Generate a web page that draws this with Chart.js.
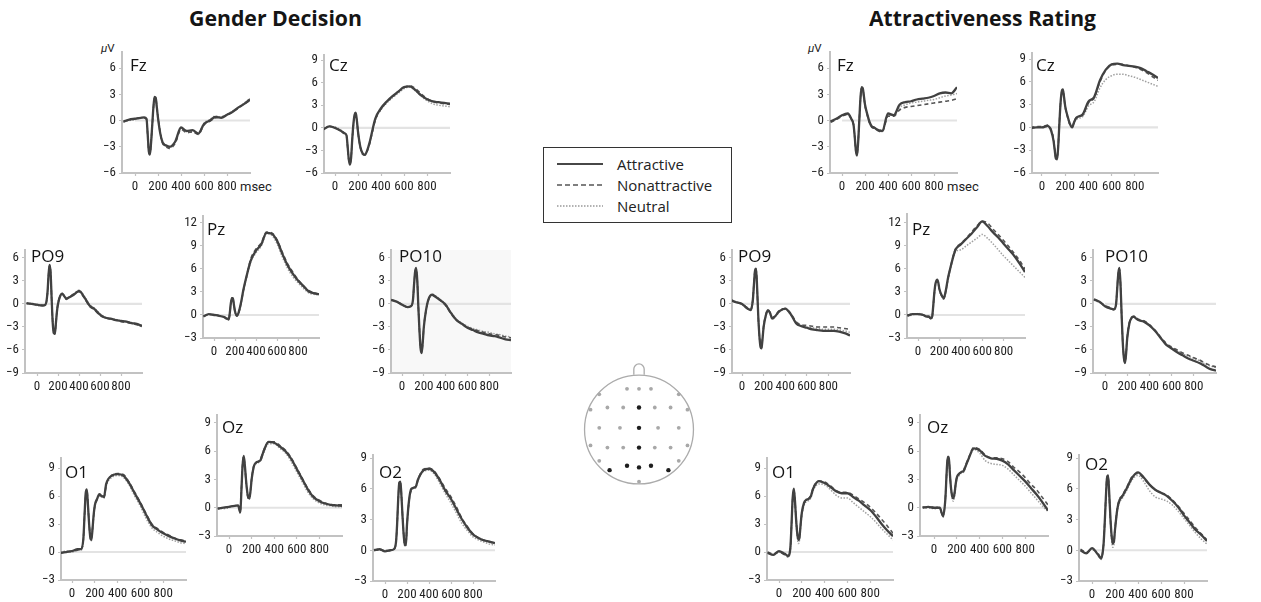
<!DOCTYPE html>
<html><head><meta charset="utf-8">
<script src="https://cdn.jsdelivr.net/npm/chart.js@4.4.1/dist/chart.umd.min.js"></script>
<style>
html,body{margin:0;padding:0;background:#fff;}
body{width:1261px;height:602px;overflow:hidden;position:relative;font-family:Roboto,"Open Sans",sans-serif;}
canvas{position:absolute;}
.title{position:absolute;top:6px;font-family:"Open Sans",sans-serif;font-weight:700;font-size:20.5px;line-height:24px;color:#151515;white-space:nowrap;transform-origin:0 0;}
.small{position:absolute;font-family:"Liberation Sans Narrow",Roboto,sans-serif;font-size:13px;color:#222;white-space:nowrap;line-height:14px;}
#legend{position:absolute;left:543px;top:147px;width:189px;height:76px;border:1px solid #333;box-sizing:border-box;}
#legend .row{position:absolute;left:0;height:20px;}
#legend span{position:absolute;left:73px;top:0;font-family:"Open Sans",sans-serif;font-size:15px;line-height:20px;color:#222;white-space:nowrap;}
#legend svg{position:absolute;left:13px;top:0;}
</style></head><body>
<div class="title" id="t1">Gender Decision</div>
<div class="title" id="t2">Attractiveness Rating</div>
<div class="small" style="left:101px;top:41px;font-size:11.5px;"><i>μ</i>V</div>
<div class="small" style="left:808px;top:41px;font-size:11.5px;"><i>μ</i>V</div>
<div class="small" style="left:240px;top:180px;">msec</div>
<div class="small" style="left:947px;top:180px;">msec</div>
<div id="legend">
 <div class="row" style="top:6px;"><svg width="46" height="20"><line x1="0" y1="10" x2="46" y2="10" stroke="#474747" stroke-width="2.2"/></svg><span>Attractive</span></div>
 <div class="row" style="top:27px;"><svg width="46" height="20"><line x1="0" y1="10" x2="46" y2="10" stroke="#555" stroke-width="1.5" stroke-dasharray="5,3"/></svg><span>Nonattractive</span></div>
 <div class="row" style="top:48px;"><svg width="46" height="20"><line x1="0" y1="10" x2="46" y2="10" stroke="#999" stroke-width="1.3" stroke-dasharray="1.5,1.5"/></svg><span>Neutral</span></div>
</div>
<script>
// ---------- DATA ----------
const times = [-100,-50,0,50,80,100,110,120,130,140,150,160,170,180,190,200,220,240,260,280,300,350,400,450,500,550,600,650,700,750,800,850,900,950,1000];
const xTickValues = [0,200,400,600,800];
const seriesNames = ['Attractive','Nonattractive','Neutral'];

// Gender Decision
const gdFzAttr = [-0.1,0.1,0.2,0.3,0.35,0.2,-1.5,-3.5,-3.9,-2.5,-0.5,1.5,2.7,2.6,1.5,0.3,-1.5,-2.5,-2.8,-2.9,-3.0,-2.4,-0.8,-1.2,-1.1,-1.5,-0.4,0.0,0.4,0.3,0.65,1.0,1.5,1.9,2.4];
const gdFzNon  = [-0.2,0.1,0.2,0.3,0.3,0.1,-1.6,-3.6,-3.8,-2.4,-0.6,1.4,2.6,2.6,1.6,0.4,-1.4,-2.6,-2.9,-3.1,-3.2,-2.6,-1.0,-1.4,-1.3,-1.6,-0.5,-0.1,0.3,0.4,0.6,1.0,1.4,1.9,2.3];
const gdFzNeu  = [-0.1,0.0,0.1,0.3,0.3,0.2,-1.4,-3.4,-3.8,-2.6,-0.6,1.4,2.6,2.5,1.4,0.3,-1.5,-2.4,-2.7,-2.9,-3.1,-2.5,-0.9,-1.3,-1.2,-1.4,-0.3,0.1,0.5,0.4,0.7,1.1,1.5,2.0,2.5];

const gdCzAttr = [-0.2,0.2,0.0,-0.4,-0.7,-1.0,-2.5,-4.2,-4.9,-4.0,-1.5,0.5,1.7,2.0,1.0,-0.5,-2.5,-3.4,-3.6,-3.0,-2.0,1.2,2.6,3.5,4.2,4.8,5.4,5.5,5.0,4.3,3.8,3.5,3.4,3.3,3.2];
const gdCzNon  = [-0.2,0.2,0.0,-0.4,-0.7,-1.1,-2.6,-4.3,-4.8,-3.9,-1.6,0.4,1.6,1.9,1.0,-0.6,-2.6,-3.5,-3.6,-3.1,-2.2,1.0,2.5,3.4,4.1,4.8,5.3,5.6,5.2,4.5,3.9,3.5,3.3,3.2,3.1];
const gdCzNeu  = [-0.1,0.2,0.1,-0.3,-0.7,-1.0,-2.4,-4.1,-4.8,-4.0,-1.6,0.4,1.6,1.9,0.9,-0.6,-2.5,-3.4,-3.5,-3.0,-2.1,1.0,2.4,3.3,4.0,4.6,5.2,5.4,4.9,4.2,3.6,3.2,3.0,2.9,2.8];

const gdPO9Attr = [0.1,0.0,-0.1,-0.2,-0.1,1.5,3.8,5.1,4.0,0.5,-2.5,-3.8,-3.9,-2.5,-1.0,0.0,1.0,1.35,1.0,0.7,0.8,1.2,1.7,0.9,-0.2,-0.7,-1.4,-1.8,-1.9,-2.1,-2.2,-2.3,-2.5,-2.6,-2.9];
const gdPO9Non  = [0.1,0.0,-0.1,-0.2,-0.2,1.4,3.7,5.0,4.1,0.6,-2.4,-3.7,-3.9,-2.6,-1.0,0.1,1.0,1.3,1.0,0.6,0.8,1.3,1.6,0.8,-0.3,-0.8,-1.5,-1.8,-2.0,-2.1,-2.3,-2.4,-2.5,-2.7,-2.8];
const gdPO9Neu  = [0.0,0.1,-0.2,-0.1,-0.1,1.5,3.8,5.0,3.9,0.4,-2.5,-3.8,-3.8,-2.4,-0.9,0.0,1.1,1.4,1.1,0.8,0.9,1.3,1.8,1.0,-0.1,-0.6,-1.3,-1.7,-1.9,-2.0,-2.2,-2.3,-2.4,-2.6,-2.8];

const gdPzAttr = [-0.2,0.1,0.0,-0.1,-0.2,-0.3,-0.4,-0.45,-0.5,-0.6,0.2,1.5,2.2,2.2,1.3,0.5,-0.1,0.6,1.8,3.3,4.5,7.1,8.4,9.2,10.7,10.6,9.7,8.0,6.5,5.4,4.5,3.8,3.1,2.85,2.7];
const gdPzNon  = [-0.2,0.1,0.0,-0.1,-0.2,-0.3,-0.4,-0.5,-0.5,-0.6,0.1,1.4,2.1,2.1,1.3,0.4,-0.1,0.5,1.7,3.2,4.4,7.3,8.6,9.4,10.8,10.7,9.8,8.2,6.7,5.6,4.6,3.8,3.2,2.9,2.7];
const gdPzNeu  = [-0.1,0.0,0.1,-0.1,-0.2,-0.2,-0.3,-0.4,-0.5,-0.6,0.2,1.5,2.2,2.1,1.2,0.4,-0.2,0.5,1.6,3.1,4.3,6.9,8.1,9.0,10.6,10.4,9.3,7.6,6.1,5.0,4.2,3.5,2.9,2.7,2.6];

const gdPO10Attr = [0.55,0.3,-0.1,-0.4,-0.3,0.5,2.5,4.2,4.7,3.0,-0.5,-3.5,-5.8,-6.4,-5.0,-3.0,-0.8,0.5,1.1,1.2,1.0,0.5,-0.1,-1.2,-2.1,-2.6,-3.1,-3.4,-3.7,-3.9,-4.1,-4.2,-4.4,-4.6,-4.7];
const gdPO10Non  = [0.5,0.3,-0.1,-0.4,-0.3,0.4,2.4,4.1,4.6,3.0,-0.4,-3.4,-5.7,-6.3,-5.0,-3.0,-0.9,0.4,1.0,1.1,1.0,0.5,-0.2,-1.3,-2.1,-2.6,-3.0,-3.3,-3.5,-3.7,-3.9,-4.0,-4.1,-4.3,-4.4];
const gdPO10Neu  = [0.6,0.3,0.0,-0.4,-0.3,0.5,2.5,4.2,4.6,2.9,-0.6,-3.5,-5.7,-6.3,-4.9,-2.9,-0.8,0.5,1.1,1.2,1.1,0.6,0.0,-1.1,-2.0,-2.5,-2.9,-3.2,-3.4,-3.6,-3.7,-3.9,-4.0,-4.2,-4.3];

const gdO1Attr = [-0.1,0.0,0.1,0.3,0.3,1.5,4.0,6.3,6.7,5.0,3.0,1.6,1.3,2.5,4.0,5.0,5.7,6.2,6.0,5.9,7.3,8.2,8.35,8.2,7.4,6.3,5.2,4.0,2.9,2.4,2.0,1.7,1.45,1.25,1.1];
const gdO1Non  = [-0.1,0.0,0.1,0.2,0.3,1.4,3.9,6.2,6.7,5.1,3.1,1.7,1.4,2.5,3.9,4.9,5.6,6.1,6.0,5.8,7.2,8.2,8.4,8.3,7.5,6.4,5.3,4.1,3.0,2.5,2.1,1.8,1.5,1.3,1.2];
const gdO1Neu  = [0.0,0.1,0.0,0.2,0.2,1.5,4.0,6.2,6.6,4.9,2.9,1.5,1.2,2.4,3.9,4.9,5.6,6.0,5.9,5.8,7.1,8.0,8.2,8.0,7.2,6.0,4.9,3.6,2.6,2.1,1.7,1.4,1.2,1.0,0.9];

const gdOzAttr = [-0.1,0.0,0.1,0.2,0.25,-0.5,2.0,4.5,5.5,4.5,3.0,1.8,1.1,1.0,1.8,3.0,4.4,4.8,4.9,5.1,5.8,7.0,6.9,6.5,6.0,5.2,4.1,3.0,1.9,1.1,0.7,0.45,0.3,0.25,0.2];
const gdOzNon  = [-0.1,0.0,0.1,0.2,0.2,-0.4,2.1,4.6,5.4,4.4,2.9,1.7,1.0,1.0,1.9,3.1,4.5,4.8,4.9,5.2,5.9,7.0,7.0,6.6,6.1,5.3,4.2,3.1,2.0,1.2,0.8,0.5,0.35,0.3,0.3];
const gdOzNeu  = [0.0,-0.1,0.0,0.2,0.2,-0.6,1.9,4.4,5.4,4.4,2.8,1.6,0.9,0.9,1.7,2.9,4.3,4.7,4.8,5.0,5.6,6.8,6.8,6.3,5.8,4.9,3.8,2.7,1.6,0.9,0.5,0.3,0.2,0.1,0.1];

const gdO2Attr = [0.0,0.1,-0.1,0.0,0.1,0.8,2.5,5.0,6.6,6.7,5.2,3.2,1.5,0.5,0.5,2.5,5.0,6.0,6.1,6.2,6.9,7.8,7.95,7.6,6.8,5.8,5.0,4.0,3.0,2.2,1.55,1.2,0.95,0.85,0.7];
const gdO2Non  = [0.0,0.1,-0.1,0.0,0.1,0.7,2.4,4.9,6.5,6.7,5.3,3.3,1.6,0.6,0.6,2.5,4.9,5.9,6.1,6.2,6.9,7.9,8.0,7.7,6.9,6.0,5.2,4.2,3.1,2.3,1.6,1.2,1.0,0.8,0.7];
const gdO2Neu  = [0.1,0.0,0.0,0.0,0.1,0.8,2.5,4.9,6.5,6.6,5.1,3.1,1.4,0.4,0.5,2.4,4.9,5.9,6.0,6.1,6.8,7.7,7.8,7.4,6.5,5.5,4.6,3.6,2.6,1.9,1.3,1.0,0.8,0.6,0.5];

// Attractiveness Rating
const arFzAttr = [-0.1,0.2,0.6,0.8,0.2,-0.5,-1.8,-3.4,-4.0,-2.5,0.0,2.5,3.8,3.7,2.8,1.8,0.7,-0.2,-0.7,-0.8,-1.0,-1.2,0.8,0.6,1.8,2.1,2.2,2.4,2.5,2.6,2.8,3.1,3.2,3.1,3.8];
const arFzNon  = [-0.2,0.1,0.5,0.7,0.2,-0.5,-1.9,-3.5,-3.9,-2.4,0.1,2.4,3.7,3.6,2.7,1.7,0.6,-0.3,-0.8,-0.9,-1.1,-1.3,0.5,0.5,1.2,1.5,1.6,1.7,1.8,1.9,2.0,2.1,2.2,2.3,2.5];
const arFzNeu  = [-0.1,0.2,0.6,0.7,0.2,-0.4,-1.7,-3.3,-3.9,-2.6,-0.1,2.4,3.7,3.6,2.7,1.7,0.6,-0.3,-0.7,-0.8,-1.0,-1.1,0.6,0.6,1.5,1.8,2.0,2.1,2.2,2.3,2.4,2.6,2.8,2.9,3.1];

const arCzAttr = [-0.1,0.0,0.0,0.2,-0.5,-1.8,-3.0,-4.1,-4.2,-2.5,0.5,3.2,4.7,5.0,4.0,2.8,1.5,0.5,0.0,0.8,1.3,1.7,3.4,4.0,6.2,7.6,8.3,8.4,8.2,8.1,8.0,7.8,7.4,7.0,6.5];
const arCzNon  = [0.0,0.1,0.1,0.3,-0.3,-1.6,-2.9,-4.0,-4.1,-2.4,0.6,3.2,4.6,4.9,3.9,2.7,1.4,0.4,0.1,0.9,1.4,1.6,3.2,3.9,6.0,7.5,8.2,8.3,8.3,8.1,7.9,7.6,7.2,6.7,6.2];
const arCzNeu  = [0.0,0.0,0.1,0.1,-0.4,-1.7,-3.0,-4.1,-4.2,-2.6,0.4,3.1,4.6,4.9,3.9,2.7,1.4,0.4,0.0,0.7,1.1,1.4,2.8,3.4,5.2,6.3,6.8,7.0,7.0,6.8,6.6,6.3,6.0,5.7,5.4];

const arPO9Attr = [0.5,0.2,0.0,-0.6,-0.8,0.5,2.5,4.3,4.6,2.0,-1.5,-4.0,-5.5,-5.8,-4.5,-3.0,-1.5,-0.8,-1.2,-1.9,-1.7,-0.9,-0.6,-1.3,-2.5,-2.9,-3.1,-3.3,-3.4,-3.5,-3.5,-3.5,-3.6,-3.8,-4.1];
const arPO9Non  = [0.4,0.2,0.0,-0.5,-0.7,0.6,2.6,4.4,4.6,1.9,-1.6,-4.0,-5.4,-5.7,-4.4,-2.9,-1.4,-0.8,-1.1,-1.8,-1.6,-0.8,-0.6,-1.2,-2.3,-2.7,-2.8,-2.9,-3.0,-3.0,-3.0,-3.0,-3.1,-3.2,-3.3];
const arPO9Neu  = [0.5,0.3,-0.1,-0.6,-0.8,0.4,2.4,4.2,4.5,1.9,-1.6,-4.1,-5.5,-5.8,-4.6,-3.1,-1.6,-0.9,-1.3,-2.0,-1.8,-1.0,-0.7,-1.4,-2.4,-2.8,-3.0,-3.1,-3.2,-3.3,-3.3,-3.3,-3.4,-3.5,-3.7];

const arPzAttr = [-0.1,0.1,0.1,0.0,-0.2,-0.2,-0.3,-0.4,-0.4,0.8,2.5,3.8,4.4,4.6,4.2,3.4,2.6,2.2,3.2,4.8,6.0,8.5,9.2,9.9,10.6,11.4,12.2,11.6,10.8,10.1,9.3,8.5,7.7,6.7,5.6];
const arPzNon  = [0.0,0.1,0.1,0.0,-0.3,-0.3,-0.4,-0.5,-0.5,0.7,2.4,3.7,4.3,4.5,4.1,3.3,2.5,2.1,3.1,4.7,6.0,8.6,9.3,10.0,10.8,11.6,12.2,12.0,11.2,10.5,9.7,8.9,8.0,7.1,6.0];
const arPzNeu  = [-0.1,0.0,0.2,0.0,-0.2,-0.3,-0.3,-0.4,-0.5,0.7,2.4,3.7,4.3,4.5,4.1,3.3,2.5,2.1,3.0,4.5,5.8,8.2,8.5,9.0,9.5,10.0,10.5,10.0,9.3,8.5,7.7,7.0,6.3,5.6,4.9];

const arPO10Attr = [0.6,0.3,-0.3,-0.6,-0.7,0.0,2.0,4.0,4.7,2.5,-1.5,-5.0,-7.0,-7.7,-6.5,-4.5,-2.5,-1.8,-1.65,-1.9,-2.1,-2.3,-2.8,-3.5,-4.4,-5.3,-5.8,-6.3,-6.7,-7.1,-7.4,-7.7,-8.1,-8.5,-8.7];
const arPO10Non  = [0.6,0.3,-0.2,-0.5,-0.7,0.1,2.1,4.1,4.6,2.4,-1.6,-5.0,-6.9,-7.6,-6.4,-4.4,-2.4,-1.7,-1.6,-1.8,-2.0,-2.2,-2.7,-3.4,-4.3,-5.1,-5.6,-6.0,-6.4,-6.7,-7.0,-7.3,-7.7,-8.0,-8.2];
const arPO10Neu  = [0.5,0.2,-0.3,-0.6,-0.8,0.0,2.0,3.9,4.6,2.5,-1.5,-4.9,-6.9,-7.6,-6.5,-4.5,-2.5,-1.8,-1.7,-1.9,-2.1,-2.3,-2.8,-3.5,-4.4,-5.2,-5.7,-6.1,-6.5,-6.8,-7.1,-7.4,-7.8,-8.1,-8.3];

const arO1Attr = [-0.1,-0.3,0.1,-0.2,-0.4,0.5,3.0,5.8,6.8,5.5,3.5,2.0,1.3,1.6,3.0,4.2,5.3,5.6,5.7,6.0,6.8,7.6,7.4,7.0,6.5,6.3,6.3,5.9,5.5,5.0,4.5,3.8,3.0,2.3,1.7];
const arO1Non  = [0.0,-0.2,0.0,-0.3,-0.5,0.4,2.9,5.7,6.7,5.5,3.6,2.1,1.4,1.7,3.0,4.1,5.2,5.5,5.7,6.1,6.9,7.6,7.5,7.1,6.6,6.4,6.4,6.1,5.7,5.3,4.8,4.2,3.5,2.8,2.0];
const arO1Neu  = [-0.1,-0.3,0.0,-0.3,-0.5,0.4,2.8,5.5,6.5,5.2,3.2,1.6,0.9,1.3,2.7,3.9,5.0,5.4,5.5,5.8,6.6,7.3,7.2,6.7,6.1,5.8,5.8,5.3,4.8,4.3,3.8,3.2,2.5,1.9,1.3];

const arOzAttr = [0.0,0.1,0.0,0.0,-0.9,1.0,3.5,5.4,5.4,3.5,2.0,1.2,1.0,1.5,2.5,3.2,3.6,3.8,3.9,4.5,5.1,6.3,6.1,5.5,5.25,5.2,5.0,4.6,4.0,3.4,2.8,2.1,1.4,0.6,-0.3];
const arOzNon  = [0.1,0.0,0.1,-0.1,-0.8,1.1,3.5,5.3,5.3,3.5,2.0,1.3,1.1,1.6,2.5,3.2,3.6,3.8,4.0,4.6,5.2,6.4,6.2,5.6,5.3,5.3,5.2,4.9,4.3,3.8,3.2,2.5,1.9,1.1,0.3];
const arOzNeu  = [0.0,0.0,-0.1,0.0,-1.0,0.9,3.3,5.2,5.2,3.3,1.8,0.9,0.7,1.2,2.2,3.0,3.4,3.7,3.8,4.4,5.0,6.2,5.8,5.0,4.7,4.6,4.5,4.1,3.5,2.9,2.3,1.6,0.9,0.2,-0.4];

const arO2Attr = [0.0,-0.3,0.2,-0.4,-0.8,0.5,2.5,5.0,7.0,7.3,5.5,3.2,1.5,0.7,0.8,2.0,4.0,4.9,5.2,5.6,6.0,7.1,7.6,7.1,6.4,5.9,5.6,5.3,4.8,4.2,3.4,2.7,2.0,1.5,0.9];
const arO2Non  = [0.1,-0.2,0.1,-0.3,-0.7,0.6,2.6,5.1,7.1,7.3,5.4,3.1,1.4,0.6,0.8,2.1,4.1,5.0,5.3,5.7,6.1,7.2,7.5,7.0,6.4,5.9,5.6,5.4,4.9,4.3,3.6,2.9,2.2,1.6,1.0];
const arO2Neu  = [0.0,-0.3,0.1,-0.4,-0.9,0.4,2.4,4.8,6.8,7.1,5.2,2.9,1.1,0.3,0.5,1.8,3.8,4.7,5.0,5.4,5.8,6.9,7.3,6.7,5.8,5.2,5.0,4.8,4.4,3.8,3.1,2.4,1.7,1.1,0.6];

// Electrode montage (head-relative units, radius = 1)
const headGrey = [[-0.22,0.74],[0,0.74],[0.22,0.74],[-0.73,0.64],[0.73,0.64],
 [-0.89,0.36],[-0.58,0.40],[-0.29,0.40],[0.29,0.40],[0.58,0.40],[0.89,0.36],
 [-0.73,0.03],[-0.35,0.03],[0.35,0.03],[0.73,0.03],
 [-0.89,-0.29],[-0.58,-0.33],[-0.29,-0.33],[0.29,-0.33],[0.58,-0.33],[0.89,-0.29],
 [-0.73,-0.57],[0.73,-0.57],[0,-0.95]];
const headBlack = [[0,0.40],[0,0.03],[0,-0.33],[-0.54,-0.74],[-0.22,-0.66],[0,-0.69],[0.22,-0.66],[0.54,-0.74]];

// ---------- LAYOUT (pixel geometry per panel) ----------
const T6 = [-6,-3,0,3,6], T9 = [-6,-3,0,3,6,9], TPO = [-9,-6,-3,0,3,6], TPZ = [-3,0,3,6,9,12], TO = [-3,0,3,6,9];
const panels = [
 {name:'Fz', d:[gdFzAttr,gdFzNon,gdFzNeu], ax:122, x0:135, s:23, top:52, bottom:173, pxuv:8.75, yt:T6, ldx:8, ldy:19},
 {name:'Cz', d:[gdCzAttr,gdCzNon,gdCzNeu], ax:324, x0:335, s:23, top:55, bottom:173, pxuv:7.53, yt:T9, ldx:5, ldy:16},
 {name:'PO9', d:[gdPO9Attr,gdPO9Non,gdPO9Neu], ax:25, x0:37, s:21, top:250, bottom:373, pxuv:7.67, yt:TPO, ldx:6, ldy:12},
 {name:'Pz', d:[gdPzAttr,gdPzNon,gdPzNeu], ax:203, x0:214, s:21, top:216, bottom:338, pxuv:7.67, yt:TPZ, ldx:4, ldy:19},
 {name:'PO10', d:[gdPO10Attr,gdPO10Non,gdPO10Neu], ax:391, x0:402, s:21.7, top:250, bottom:373, pxuv:7.67, yt:TPO, ldx:8, ldy:12, bg:'#f8f8f8'},
 {name:'O1', d:[gdO1Attr,gdO1Non,gdO1Neu], ax:61, x0:72, s:22.75, top:458, bottom:580, pxuv:9.33, yt:TO, ldx:4, ldy:20},
 {name:'Oz', d:[gdOzAttr,gdOzNon,gdOzNeu], ax:217, x0:229, s:22.5, top:415, bottom:536, pxuv:9.42, yt:TO, ldx:5, ldy:18},
 {name:'O2', d:[gdO2Attr,gdO2Non,gdO2Neu], ax:373, x0:385, s:22, top:455, bottom:581, pxuv:10.25, yt:TO, ldx:6, ldy:23},
 {name:'Fz', d:[arFzAttr,arFzNon,arFzNeu], ax:830, x0:842, s:22.9, top:52, bottom:173, pxuv:8.75, yt:T6, ldx:7, ldy:19},
 {name:'Cz', d:[arCzAttr,arCzNon,arCzNeu], ax:1032, x0:1042, s:23.25, top:53, bottom:173, pxuv:7.6, yt:T9, ldx:4, ldy:18},
 {name:'PO9', d:[arPO9Attr,arPO9Non,arPO9Neu], ax:732, x0:742, s:21.5, top:250, bottom:373, pxuv:7.67, yt:TPO, ldx:6, ldy:12},
 {name:'Pz', d:[arPzAttr,arPzNon,arPzNeu], ax:907, x0:918, s:21.4, top:214, bottom:338, pxuv:7.67, yt:TPZ, ldx:5, ldy:21},
 {name:'PO10', d:[arPO10Attr,arPO10Non,arPO10Neu], ax:1093, x0:1105, s:22.2, top:250, bottom:373, pxuv:7.67, yt:TPO, ldx:12, ldy:12},
 {name:'O1', d:[arO1Attr,arO1Non,arO1Neu], ax:767, x0:779, s:22.8, top:458, bottom:580, pxuv:9.33, yt:TO, ldx:5, ldy:20},
 {name:'Oz', d:[arOzAttr,arOzNon,arOzNeu], ax:920, x0:934, s:22.8, top:415, bottom:536, pxuv:9.42, yt:TO, ldx:7, ldy:18},
 {name:'O2', d:[arO2Attr,arO2Non,arO2Neu], ax:1079, x0:1092, s:23, top:455, bottom:581, pxuv:10.25, yt:TO, ldx:6, ldy:15}
];

const STYLES = [
 {color:'#414141', width:2.3, dash:[]},
 {color:'#555555', width:1.6, dash:[4,3]},
 {color:'#a0a0a0', width:1.5, dash:[1.5,1.5]}
];
const AXIS = '#c2c2c2';
const PADT = 8, PADR = 3, YW = 26, XH = 22;
const TICK_FAMILY = "'Liberation Sans Narrow', 'Roboto Condensed', Roboto, sans-serif";

function makePanel(p){
  const k = p.s/200;
  const xmin = -(p.x0 - p.ax)/k;
  const plotW = (p.x0 - p.ax) + 1000*k;
  const plotH = p.bottom - p.top;
  const ymin = p.yt[0];
  const ymax = ymin + plotH/p.pxuv;
  const W = Math.round(YW + plotW + PADR), H = Math.round(PADT + plotH + XH);
  const c = document.createElement('canvas');
  c.width = W; c.height = H;
  c.style.left = Math.round(p.ax - YW) + 'px';
  c.style.top = Math.round(p.top - PADT) + 'px';
  c.style.width = W + 'px'; c.style.height = H + 'px';
  document.body.appendChild(c);
  const datasets = p.d.map((arr,i)=>({
    label: seriesNames[i],
    data: times.map((t,j)=>({x:t, y:arr[j]})),
    borderColor: STYLES[i].color, borderWidth: STYLES[i].width, borderDash: STYLES[i].dash,
    pointRadius: 0, fill:false, cubicInterpolationMode:'monotone'
  }));
  const tickFont = {family:TICK_FAMILY, size:13};
  new Chart(c, {
    type:'line',
    data:{datasets},
    options:{
      responsive:false, animation:false, devicePixelRatio:1,
      layout:{padding:{top:PADT, right:PADR, left:0, bottom:0}},
      plugins:{legend:{display:false}, tooltip:{enabled:false}},
      scales:{
        x:{type:'linear', min:xmin, max:1000,
           afterBuildTicks:s=>{s.ticks = xTickValues.map(v=>({value:v}));},
           afterFit:s=>{s.height = XH; s.paddingLeft = 0; s.paddingRight = 0;},
           ticks:{autoSkip:false, maxRotation:0, minRotation:0, padding:3, font:tickFont, color:'#1f1f1f'},
           grid:{drawOnChartArea:false, drawTicks:true, tickLength:3, tickColor:AXIS, tickWidth:1.2},
           border:{display:true, color:AXIS, width:2}},
        y:{type:'linear', min:ymin, max:ymax,
           afterBuildTicks:s=>{s.ticks = p.yt.map(v=>({value:v}));},
           afterFit:s=>{s.width = YW; s.paddingTop = 0; s.paddingBottom = 0;},
           ticks:{padding:3, font:tickFont, color:'#1f1f1f', callback:v=>String(v).replace('-','\u2212')},
           grid:{drawOnChartArea:false, drawTicks:true, tickLength:3, tickColor:AXIS, tickWidth:1.2},
           border:{display:true, color:AXIS, width:2}}
      }
    },
    plugins:[{
      id:'deco',
      beforeDraw(chart){
        if(!p.bg) return;
        const a = chart.chartArea, ctx = chart.ctx;
        ctx.save(); ctx.fillStyle = p.bg; ctx.fillRect(a.left, a.top, a.right-a.left, a.bottom-a.top); ctx.restore();
      },
      beforeDatasetsDraw(chart){
        const a = chart.chartArea, ctx = chart.ctx;
        const y0 = chart.scales.y.getPixelForValue(0), xs = chart.scales.x.getPixelForValue(0);
        ctx.save(); ctx.strokeStyle = '#e3e3e3'; ctx.lineWidth = 2.2;
        ctx.beginPath(); ctx.moveTo(xs, y0); ctx.lineTo(a.right, y0); ctx.stroke(); ctx.restore();
      },
      afterDraw(chart){
        const a = chart.chartArea, ctx = chart.ctx;
        ctx.save(); ctx.fillStyle = '#141414'; ctx.font = '17px "Open Sans"'; ctx.textBaseline = 'alphabetic';
        ctx.fillText(p.name, a.left + p.ldx, a.top + p.ldy); ctx.restore();
      }
    }]
  });
}
panels.forEach(makePanel);

// ---------- Head / montage ----------
(function(){
  const cx = 639, cy = 430, r = 58;
  const xr = 1.12, ytop = 1.32, ybot = -1.12;
  const W = Math.round(2*xr*r), H = Math.round((ytop-ybot)*r);
  const c = document.createElement('canvas');
  c.width = W; c.height = H;
  c.style.left = Math.round(cx - xr*r) + 'px'; c.style.top = Math.round(cy - ytop*r) + 'px';
  c.style.width = W+'px'; c.style.height = H+'px';
  document.body.appendChild(c);
  new Chart(c, {
    type:'scatter',
    data:{datasets:[
      {data:headBlack.map(e=>({x:e[0],y:e[1]})), pointRadius:2.2, pointBackgroundColor:'#1e1e1e', pointBorderWidth:0},
      {data:headGrey.map(e=>({x:e[0],y:e[1]})), pointRadius:1.9, pointBackgroundColor:'#a8a8a8', pointBorderWidth:0}
    ]},
    options:{responsive:false, animation:false, devicePixelRatio:1,
      layout:{padding:0},
      plugins:{legend:{display:false}, tooltip:{enabled:false}},
      scales:{x:{type:'linear', min:-xr, max:xr, display:false}, y:{type:'linear', min:ybot, max:ytop, display:false}}},
    plugins:[{id:'head', beforeDatasetsDraw(chart){
      const ctx = chart.ctx, sx = chart.scales.x, sy = chart.scales.y;
      const ox = sx.getPixelForValue(0), oy = sy.getPixelForValue(0);
      const rr = sx.getPixelForValue(1) - ox;
      ctx.save(); ctx.strokeStyle = '#ababab'; ctx.lineWidth = 1.3;
      ctx.beginPath(); ctx.arc(ox, oy, rr, 0, Math.PI*2); ctx.stroke();
      const nx = sx.getPixelForValue(0.095) - ox, ny = sy.getPixelForValue(1.1), nb = sy.getPixelForValue(0.995);
      ctx.beginPath(); ctx.moveTo(ox - nx, nb); ctx.lineTo(ox - nx, ny); ctx.arc(ox, ny, nx, Math.PI, 0); ctx.lineTo(ox + nx, nb); ctx.stroke();
      ctx.restore();
    }}]
  });
})();

// fit titles to reference widths
function fitTitle(id, left, width){
  const el = document.getElementById(id);
  const w = el.getBoundingClientRect().width;
  el.style.left = left + 'px';
  el.style.transform = 'scaleX(' + (width / w) + ')';
}
fitTitle('t1', 189, 173);
fitTitle('t2', 869, 227);
</script>
</body></html>
